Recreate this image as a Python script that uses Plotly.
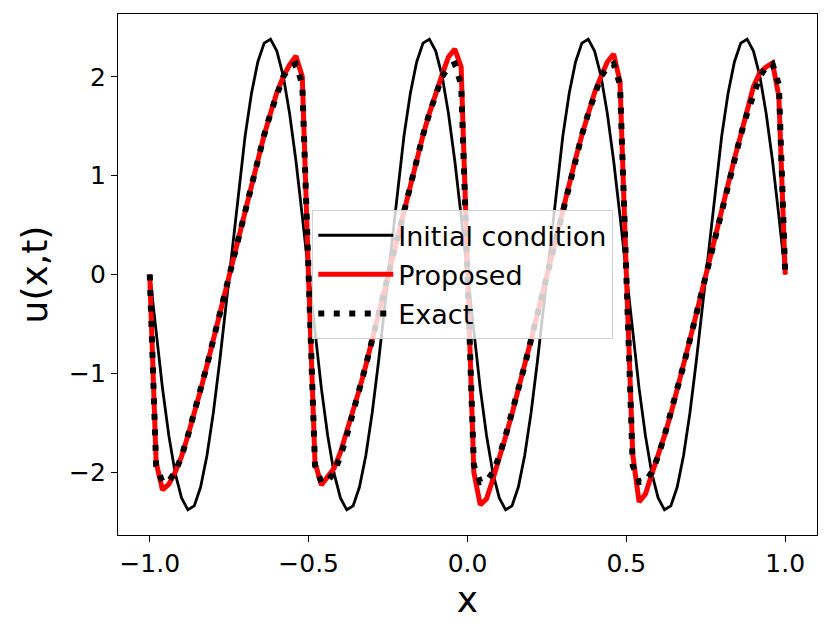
import numpy as np
import plotly.graph_objects as go

x = np.linspace(-1.0, 1.0, 101)

initial_condition = [
    0.00, -0.59, -1.15, -1.63, -2.01, -2.26, -2.38, -2.34, -2.15, -1.83, -1.40, -0.88, -0.30,
    0.30, 0.88, 1.40, 1.83, 2.15, 2.34, 2.38, 2.26, 2.01, 1.63, 1.15, 0.59,
    0.00, -0.59, -1.15, -1.63, -2.01, -2.26, -2.38, -2.34, -2.15, -1.83, -1.40, -0.88, -0.30,
    0.30, 0.88, 1.40, 1.83, 2.15, 2.34, 2.38, 2.26, 2.01, 1.63, 1.15, 0.59,
    0.00, -0.59, -1.15, -1.63, -2.01, -2.26, -2.38, -2.34, -2.15, -1.83, -1.40, -0.88, -0.30,
    0.30, 0.88, 1.40, 1.83, 2.15, 2.34, 2.38, 2.26, 2.01, 1.63, 1.15, 0.59,
    0.00, -0.59, -1.15, -1.63, -2.01, -2.26, -2.38, -2.34, -2.15, -1.83, -1.40, -0.88, -0.30,
    0.30, 0.88, 1.40, 1.83, 2.15, 2.34, 2.38, 2.26, 2.01, 1.63, 1.15, 0.59,
    0.00,
]

proposed = [
    0.00, -1.90, -2.18, -2.12, -2.00, -1.84, -1.63, -1.41, -1.17, -0.92, -0.66, -0.40, -0.13,
    0.13, 0.40, 0.66, 0.92, 1.17, 1.41, 1.63, 1.84, 2.00, 2.12, 2.21, 2.00,
    -0.05, -1.90, -2.13, -2.05, -1.96, -1.80, -1.60, -1.40, -1.16, -0.92, -0.66, -0.40, -0.13,
    0.13, 0.40, 0.66, 0.92, 1.17, 1.41, 1.63, 1.84, 2.02, 2.20, 2.28, 2.10,
    0.05, -2.00, -2.33, -2.27, -2.07, -1.87, -1.64, -1.41, -1.17, -0.92, -0.66, -0.40, -0.13,
    0.13, 0.40, 0.66, 0.92, 1.17, 1.41, 1.63, 1.84, 2.00, 2.15, 2.23, 1.95,
    0.00, -1.82, -2.30, -2.22, -2.02, -1.84, -1.63, -1.41, -1.17, -0.92, -0.66, -0.40, -0.13,
    0.13, 0.40, 0.66, 0.92, 1.17, 1.41, 1.68, 1.90, 2.04, 2.10, 2.14, 1.80,
    0.00,
]

exact = [
    0.00, -1.93, -2.10, -2.09, -2.00, -1.84, -1.63, -1.41, -1.17, -0.92, -0.66, -0.40, -0.13,
    0.13, 0.40, 0.66, 0.92, 1.17, 1.41, 1.63, 1.84, 2.00, 2.10, 2.13, 1.92,
    0.00, -1.93, -2.10, -2.09, -2.00, -1.84, -1.63, -1.41, -1.17, -0.92, -0.66, -0.40, -0.13,
    0.13, 0.40, 0.66, 0.92, 1.17, 1.41, 1.63, 1.84, 2.00, 2.10, 2.13, 1.92,
    0.00, -1.93, -2.10, -2.09, -2.00, -1.84, -1.63, -1.41, -1.17, -0.92, -0.66, -0.40, -0.13,
    0.13, 0.40, 0.66, 0.92, 1.17, 1.41, 1.63, 1.84, 2.00, 2.10, 2.13, 1.92,
    0.00, -1.93, -2.10, -2.09, -2.00, -1.84, -1.63, -1.41, -1.17, -0.92, -0.66, -0.40, -0.13,
    0.13, 0.40, 0.66, 0.92, 1.17, 1.41, 1.63, 1.84, 2.00, 2.10, 2.13, 1.92,
    0.00,
]

labels = ["Initial condition", "Proposed", "Exact"]
x_ticks = [-1.0, -0.5, 0.0, 0.5, 1.0]
y_ticks = [-2, -1, 0, 1, 2]

FONT = "DejaVu Sans"

fig = go.Figure()
fig.add_trace(go.Scatter(x=x, y=initial_condition, mode="lines", name=labels[0],
                         legendgroup="a", line=dict(color="black", width=2.8)))
fig.add_trace(go.Scatter(x=x, y=proposed, mode="lines", name=labels[1],
                         legendgroup="b", line=dict(color="red", width=5)))
fig.add_trace(go.Scatter(x=x, y=exact, mode="lines", name=labels[2],
                         legendgroup="c", line=dict(color="black", width=6, dash="6px,9.5px")))

axis_common = dict(
    showline=True, mirror=True, linecolor="black", linewidth=1.3,
    showgrid=False, zeroline=False, ticks="outside", ticklen=6, tickwidth=1.3,
    tickcolor="black", tickfont=dict(family=FONT, size=25, color="black"),
)

fig.update_xaxes(range=[-1.1, 1.1], tickvals=x_ticks, tickformat=".1f",
                 title=dict(text="x", font=dict(family=FONT, size=36, color="black"), standoff=9),
                 **axis_common)
fig.update_yaxes(range=[-2.635, 2.635], tickvals=y_ticks,
                 title=dict(text="u(x,t)", font=dict(family=FONT, size=36, color="black"), standoff=10),
                 **axis_common)

fig.update_layout(
    width=823, height=631,
    margin=dict(l=110, r=14, t=6, b=104, autoexpand=False),
    plot_bgcolor="white", paper_bgcolor="white",
    font=dict(family=FONT, color="black"),
    legend=dict(x=0.2775, y=0.624, xanchor="left", yanchor="top",
                bgcolor="rgba(255,255,255,0.8)", bordercolor="#d0d0d0", borderwidth=1.3,
                font=dict(family=FONT, size=27, color="black"),
                traceorder="grouped", tracegroupgap=1, itemwidth=75),
)

fig.write_html("out.html")
